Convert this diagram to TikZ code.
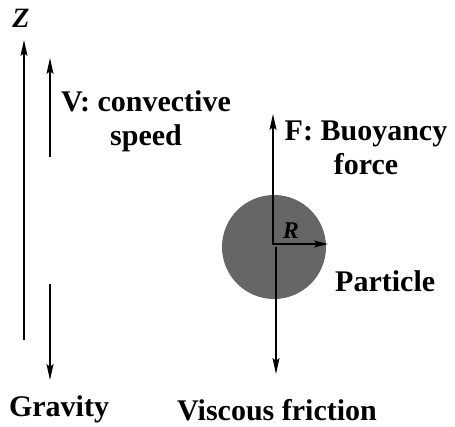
\documentclass[tikz,border=0pt]{standalone}
\usepackage{fontspec}
\setmainfont{Liberation Serif}
\usetikzlibrary{arrows.meta}
\begin{document}
\begin{tikzpicture}[x=1pt,y=-1pt,
  lbl/.style={font=\fontsize{30}{34}\selectfont\bfseries, inner sep=0pt, align=center},
  vec/.style={line width=1.8pt, -{Stealth[length=16pt,width=7pt,inset=3pt]}},
  ax/.style={line width=1.6pt, -{Stealth[length=16pt,width=7pt,inset=3pt]}}]
\useasboundingbox (0,0) rectangle (455,426);
% axis
\coordinate (zb) at (24,340);
\coordinate (zt) at (24,40);
\draw[ax] (zb) -- (zt);
\node[font=\fontsize{28}{30}\selectfont\bfseries\itshape, inner sep=0pt] (zl) at (21,18) {Z};
% convective speed
\coordinate (vb) at (50,157);
\coordinate (vt) at (50,58);
\draw[vec] (vb) -- (vt);
\node[lbl] (vl) at (146,121) {V: convective\\speed};
% gravity
\coordinate (gb) at (50,284);
\coordinate (gt) at (50,380);
\draw[vec] (gb) -- (gt);
\node[lbl] (gl) at (59,409) {Gravity};
% particle
\node[circle, fill=black!60, minimum size=104pt, inner sep=0pt] (p) at (274,247) {};
\coordinate (fc) at (273,245);
\coordinate (ft) at (273,114);
\draw[vec] (fc) -- (ft);
\node[lbl] (fl) at (366,148) {F: Buoyancy\\force};
\coordinate (vc) at (276,247);
\coordinate (vd) at (276,374);
\draw[vec] (vc) -- (vd);
\node[lbl] (vfl) at (277,410) {Viscous friction};
\coordinate (rc) at (274,244);
\coordinate (re) at (328,244);
\draw[line width=1.8pt, -{Stealth[length=14pt,width=7pt,inset=3pt]}] (rc) -- (re);
\node[font=\fontsize{24}{26}\selectfont\bfseries\itshape, inner sep=0pt] (rl) at (291,231) {R};
\node[lbl, anchor=west] (pl) at (335,281) {Particle};
\end{tikzpicture}
\end{document}
